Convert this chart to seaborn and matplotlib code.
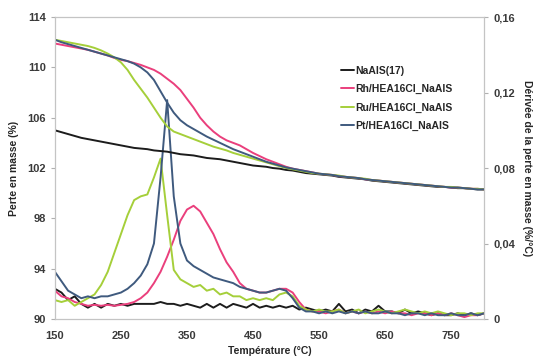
import numpy as np
import pandas as pd
import matplotlib
matplotlib.use("Agg")
import matplotlib.pyplot as plt
import seaborn as sns

# temperature grid (°C)
temperature = list(range(150, 801, 10))

# mass loss curves (%), left axis
tg_naals = [105.0, 104.85, 104.7, 104.55, 104.4, 104.3, 104.2, 104.1, 104.0, 103.9,
            103.8, 103.7, 103.6, 103.55, 103.5, 103.4, 103.35, 103.3, 103.2, 103.1,
            103.05, 103.0, 102.9, 102.8, 102.75, 102.7, 102.6, 102.5, 102.4, 102.3,
            102.2, 102.15, 102.1, 102.0, 101.95, 101.85, 101.8, 101.7, 101.6, 101.55,
            101.5, 101.45, 101.4, 101.3, 101.25, 101.2, 101.15, 101.1, 101.0, 100.95,
            100.9, 100.85, 100.8, 100.75, 100.7, 100.65, 100.6, 100.55, 100.5, 100.5,
            100.45, 100.4, 100.4, 100.35, 100.3, 100.3]
tg_rh = [111.9, 111.8, 111.7, 111.6, 111.5, 111.4, 111.25, 111.1, 110.95, 110.75,
         110.6, 110.5, 110.35, 110.2, 110.0, 109.8, 109.5, 109.1, 108.7, 108.2,
         107.5, 106.8, 106.0, 105.4, 104.9, 104.5, 104.2, 104.0, 103.8, 103.5,
         103.2, 102.95, 102.7, 102.5, 102.3, 102.1, 101.95, 101.85, 101.75, 101.65,
         101.55, 101.5, 101.45, 101.35, 101.3, 101.25, 101.2, 101.1, 101.05, 101.0,
         100.95, 100.9, 100.85, 100.8, 100.75, 100.7, 100.65, 100.6, 100.55, 100.5,
         100.45, 100.45, 100.4, 100.35, 100.35, 100.3]
tg_ru = [112.2, 112.1, 112.0, 111.9, 111.8, 111.7, 111.55, 111.35, 111.1, 110.8,
         110.4, 109.8, 109.0, 108.3, 107.6, 106.8, 106.0, 105.3, 104.9, 104.7,
         104.5, 104.3, 104.1, 103.9, 103.7, 103.55, 103.4, 103.2, 103.05, 102.9,
         102.75, 102.6, 102.45, 102.3, 102.15, 102.0, 101.9, 101.8, 101.7, 101.6,
         101.55, 101.5, 101.45, 101.4, 101.3, 101.25, 101.2, 101.15, 101.05, 101.0,
         100.95, 100.9, 100.85, 100.8, 100.75, 100.7, 100.65, 100.6, 100.55, 100.5,
         100.5, 100.45, 100.4, 100.35, 100.35, 100.3]
tg_pt = [112.2, 112.0, 111.85, 111.7, 111.55, 111.4, 111.25, 111.1, 110.95, 110.8,
         110.65, 110.5, 110.3, 110.0, 109.6, 109.0, 108.1, 107.2, 106.4, 105.8,
         105.4, 105.1, 104.8, 104.5, 104.25, 104.0, 103.75, 103.5, 103.3, 103.1,
         102.9, 102.7, 102.5, 102.35, 102.2, 102.05, 101.95, 101.85, 101.75, 101.65,
         101.55, 101.5, 101.45, 101.35, 101.3, 101.25, 101.2, 101.1, 101.05, 101.0,
         100.95, 100.9, 100.85, 100.8, 100.75, 100.7, 100.65, 100.6, 100.55, 100.5,
         100.45, 100.45, 100.4, 100.35, 100.3, 100.3]

# derivative curves (%/°C), right axis
dtg_naals = [0.016, 0.014, 0.010, 0.012, 0.008, 0.006, 0.008, 0.006, 0.008, 0.007,
             0.008, 0.007, 0.008, 0.008, 0.008, 0.008, 0.009, 0.008, 0.008, 0.007,
             0.008, 0.007, 0.006, 0.008, 0.006, 0.008, 0.006, 0.008, 0.007, 0.006,
             0.008, 0.006, 0.007, 0.006, 0.007, 0.006, 0.007, 0.005, 0.006, 0.005,
             0.004, 0.005, 0.004, 0.008, 0.004, 0.005, 0.003, 0.005, 0.004, 0.007,
             0.004, 0.004, 0.003, 0.005, 0.003, 0.004, 0.003, 0.002, 0.003, 0.002,
             0.002, 0.003, 0.002, 0.003, 0.002, 0.003]
dtg_rh = [0.015, 0.012, 0.011, 0.009, 0.008, 0.007, 0.0075, 0.007, 0.0075, 0.007,
          0.0075, 0.008, 0.009, 0.011, 0.014, 0.019, 0.025, 0.033, 0.042, 0.052,
          0.058, 0.060, 0.057, 0.051, 0.045, 0.037, 0.030, 0.025, 0.019, 0.016,
          0.015, 0.014, 0.014, 0.015, 0.016, 0.016, 0.014, 0.009, 0.005, 0.004,
          0.004, 0.003, 0.004, 0.005, 0.003, 0.004, 0.003, 0.004, 0.003, 0.004,
          0.003, 0.004, 0.003, 0.003, 0.002, 0.003, 0.003, 0.002, 0.003, 0.002,
          0.003, 0.002, 0.001, 0.002, 0.002, 0.003]
dtg_ru = [0.010, 0.009, 0.010, 0.007, 0.009, 0.011, 0.013, 0.018, 0.025, 0.035,
          0.045, 0.055, 0.063, 0.065, 0.066, 0.075, 0.085, 0.055, 0.026, 0.021,
          0.019, 0.017, 0.018, 0.015, 0.016, 0.013, 0.014, 0.012, 0.012, 0.010,
          0.011, 0.010, 0.011, 0.010, 0.013, 0.014, 0.012, 0.007, 0.005, 0.004,
          0.005, 0.004, 0.004, 0.005, 0.003, 0.004, 0.005, 0.003, 0.004, 0.005,
          0.004, 0.003, 0.004, 0.005, 0.004, 0.003, 0.004, 0.003, 0.004, 0.003,
          0.002, 0.003, 0.003, 0.002, 0.003, 0.003]
dtg_pt = [0.025, 0.020, 0.015, 0.013, 0.011, 0.012, 0.011, 0.012, 0.012, 0.013,
          0.014, 0.016, 0.019, 0.023, 0.029, 0.040, 0.075, 0.116, 0.065, 0.040,
          0.031, 0.028, 0.026, 0.024, 0.022, 0.021, 0.020, 0.019, 0.017, 0.016,
          0.015, 0.014, 0.014, 0.015, 0.016, 0.015, 0.011, 0.006, 0.004, 0.004,
          0.003, 0.004, 0.003, 0.004, 0.003, 0.004, 0.003, 0.004, 0.003, 0.003,
          0.004, 0.003, 0.003, 0.002, 0.003, 0.003, 0.002, 0.003, 0.002, 0.002,
          0.003, 0.002, 0.002, 0.003, 0.002, 0.003]

labels = ["NaAlS(17)", "Rh/HEA16Cl_NaAlS", "Ru/HEA16Cl_NaAlS", "Pt/HEA16Cl_NaAlS"]
colors = ["#1c1c1c", "#ea3f7c", "#a5cf3a", "#3f5a7e"]
tg_series = [tg_naals, tg_rh, tg_ru, tg_pt]
dtg_series = [dtg_naals, dtg_rh, dtg_ru, dtg_pt]

sns.set_theme(style="white")
plt.rcParams["font.family"] = ["Liberation Sans", "DejaVu Sans"]

fig = plt.figure(figsize=(5.38, 3.56), dpi=100)
ax = fig.add_axes([0.102, 0.104, 0.798, 0.848])
ax2 = ax.twinx()

for lab, col, tg, dtg in zip(labels, colors, tg_series, dtg_series):
    sns.lineplot(x=temperature, y=tg, color=col, lw=1.4, label=lab, ax=ax)
    sns.lineplot(x=temperature, y=dtg, color=col, lw=1.4, ax=ax2, legend=False)

ax.set_xlim(150, 800)
ax.set_ylim(90, 114)
ax2.set_ylim(0, 0.16)
ax.set_xticks(range(150, 751, 100))
ax.set_yticks(range(90, 115, 4))
ax2.set_yticks([0, 0.04, 0.08, 0.12, 0.16])
ax2.set_yticklabels(["0", "0,04", "0,08", "0,12", "0,16"])

tick_kw = dict(labelsize=8, labelcolor="#3a3a3a", colors="#b0b0b0", length=3, width=0.8)
ax.tick_params(axis="y", left=True, **tick_kw)
ax.tick_params(axis="x", bottom=False, labelsize=8, labelcolor="#3a3a3a", pad=3)
ax2.tick_params(axis="y", right=True, **tick_kw)
for a in (ax, ax2):
    for lbl in a.get_xticklabels() + a.get_yticklabels():
        lbl.set_fontweight("bold")
    for sp in a.spines.values():
        sp.set_color("#c4c4c4")
        sp.set_linewidth(0.8)

ax.set_xlabel("Température (°C)", fontsize=7.5, fontweight="bold", labelpad=3)
ax.set_ylabel("Perte en masse (%)", fontsize=7.5, fontweight="bold", labelpad=6)
ax2.set_ylabel("Dérivée de la perte en masse (%/°C)", fontsize=7.5,
               fontweight="bold", rotation=270, labelpad=12)

ax.legend(loc="upper left", bbox_to_anchor=(0.645, 0.87), frameon=False,
          handlelength=1.2, handletextpad=0.2, labelspacing=0.8,
          prop={"weight": "bold", "size": 7.5})
ax.set_zorder(ax2.get_zorder() + 1)
ax.patch.set_visible(False)

fig.savefig("out.png", dpi=100)
